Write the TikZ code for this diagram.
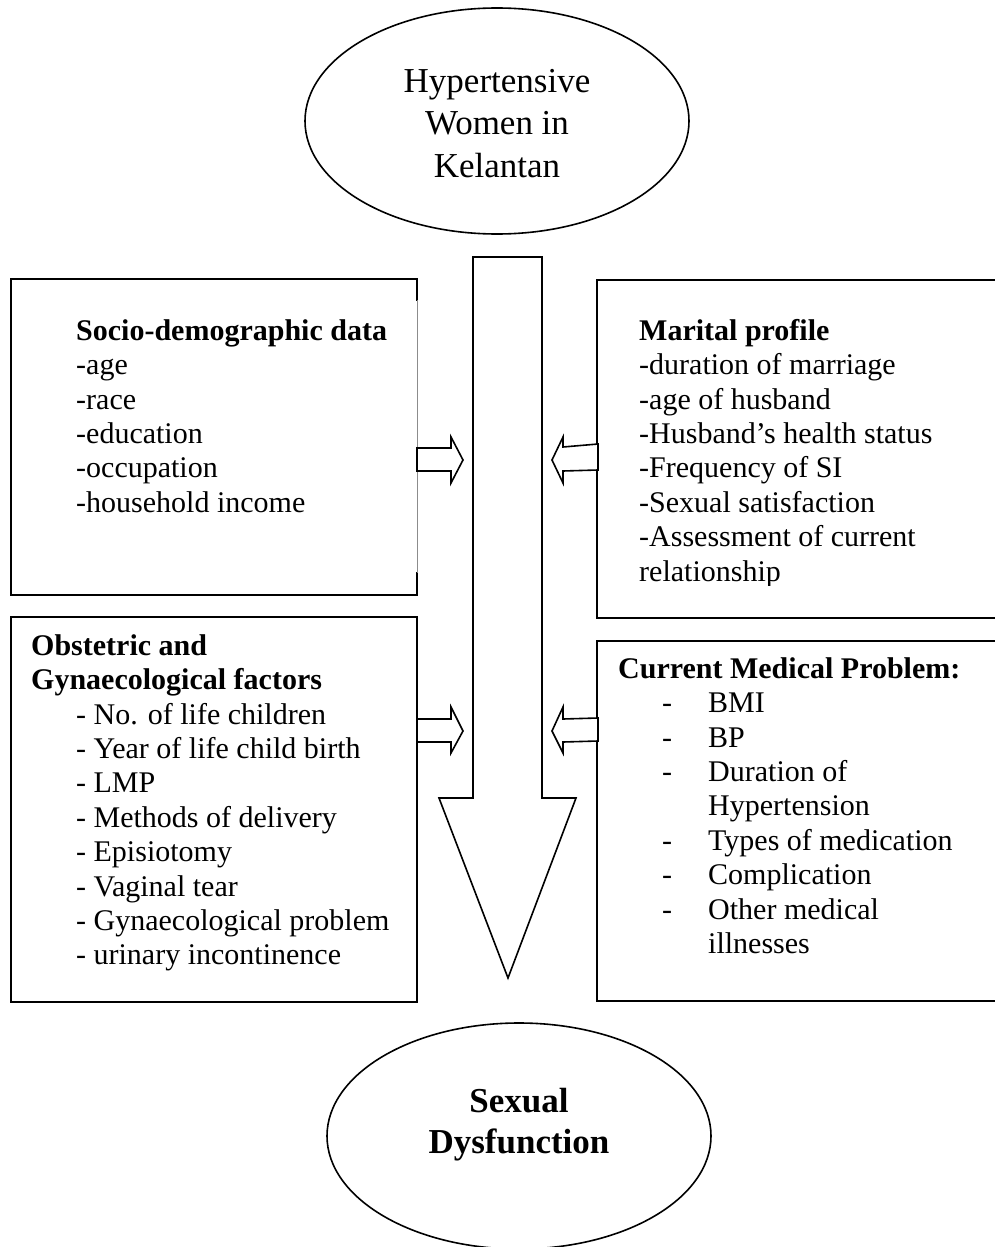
\documentclass[tikz,border=0pt]{standalone}
\usepackage{fontspec}
\setmainfont{Liberation Serif}
\usetikzlibrary{shapes.geometric}
\begin{document}
\begin{tikzpicture}[x=1pt,y=-1pt,
  boxline/.style={draw=black, line width=1.6pt, rectangle, inner sep=0pt},
  oval/.style={draw=black, line width=1.6pt, ellipse, inner sep=0pt, minimum width=384pt, minimum height=226pt},
  txt/.style={anchor=north west, inner sep=0pt, align=left, font=\fontsize{30}{34.4}\selectfont},
  bigtxt/.style={anchor=north, inner sep=0pt, align=center},
  blockarrow/.style={draw=black, line width=1.6pt, line join=miter, fill=white}
]
\clip (0,0) rectangle (995,1247);

% ellipses
\node[oval] (start) at (497,121) {};
\node[bigtxt, font=\fontsize{35}{42.5}\selectfont] (starttext) at (497,64)
  {\rule{0pt}{28pt}Hypertensive\\Women in\\Kelantan};
\node[oval] (end) at (519,1136) {};
\node[bigtxt, font=\fontsize{35}{41}\selectfont\bfseries] (endtext) at (519,1084)
  {\rule{0pt}{28pt}Sexual\\Dysfunction};

% boxes
\node[boxline, minimum width=406pt, minimum height=316pt] (socio) at (214,437) {};
\draw[white, line width=2.4pt] (417,301) -- (417,572);
\draw[black!45, line width=0.9pt] (417,300) -- (417,573);
\node[boxline, minimum width=403pt, minimum height=338pt] (marital) at (798.5,449) {};
\node[boxline, minimum width=406pt, minimum height=385pt] (obst) at (214,809.5) {};
\node[boxline, minimum width=403pt, minimum height=360pt] (med) at (798.5,821) {};

% texts
\node[txt] (sociotext) at (76,315) {\rule{0pt}{25pt}\textbf{Socio-demographic data}\\
  -age\\-race\\-education\\-occupation\\-household income};
\begin{scope}
\clip (597,280) rectangle (1000,585);
\node[txt] (maritaltext) at (639,315) {\rule{0pt}{25pt}\textbf{Marital profile}\\
  -duration of marriage\\-age of husband\\-Husband’s health status\\-Frequency of SI\\
  -Sexual satisfaction\\-Assessment of current\\relationship};
\end{scope}
\node[txt] (obsttext) at (31,630) {\rule{0pt}{25pt}\textbf{Obstetric and}\\
  \textbf{Gynaecological factors}\\
  \hspace*{45pt}- No. of life children\\
  \hspace*{45pt}- Year of life child birth\\
  \hspace*{45pt}- LMP\\
  \hspace*{45pt}- Methods of delivery\\
  \hspace*{45pt}- Episiotomy\\
  \hspace*{45pt}- Vaginal tear\\
  \hspace*{45pt}- Gynaecological problem\\
  \hspace*{45pt}- urinary incontinence};
\node[txt] (medtext) at (618,653) {\rule{0pt}{25pt}\textbf{Current Medical Problem:}\\
  \hspace*{44pt}\makebox[46pt][l]{-}BMI\\
  \hspace*{44pt}\makebox[46pt][l]{-}BP\\
  \hspace*{44pt}\makebox[46pt][l]{-}Duration of\\
  \hspace*{90pt}Hypertension\\
  \hspace*{44pt}\makebox[46pt][l]{-}Types of medication\\
  \hspace*{44pt}\makebox[46pt][l]{-}Complication\\
  \hspace*{44pt}\makebox[46pt][l]{-}Other medical\\
  \hspace*{90pt}illnesses};

% big central arrow
\draw[blockarrow] (473,257) -- (542,257) -- (542,798) -- (576,798) -- (508,978)
  -- (439,798) -- (473,798) -- cycle;

% small block arrows
\draw[blockarrow] (417,448) -- (451,448) -- (451,437) -- (463,460) -- (451,483)
  -- (451,471) -- (417,471) -- cycle;
\draw[blockarrow] (598,444) -- (563,447) -- (563,437) -- (552,460) -- (563,483)
  -- (563,471) -- (598,470) -- cycle;
\draw[blockarrow] (417,719) -- (451,719) -- (451,707) -- (463,731) -- (451,753)
  -- (451,742) -- (417,742) -- cycle;
\draw[blockarrow] (598,718) -- (563,719) -- (563,707) -- (552,731) -- (563,753)
  -- (563,742) -- (598,741) -- cycle;
\end{tikzpicture}
\end{document}
